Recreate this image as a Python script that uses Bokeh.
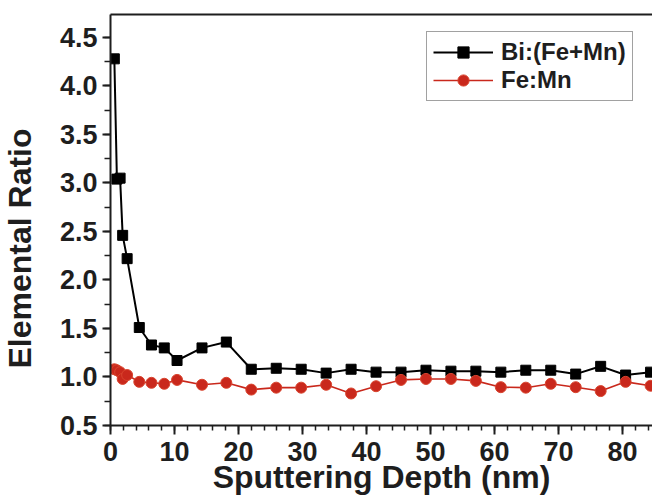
from bokeh.plotting import figure
from bokeh.models import (ColumnDataSource, Range1d, SingleIntervalTicker, LinearAxis,
                          Legend, LegendItem, Title, CustomJSTickFormatter)
from bokeh.embed import file_html
from bokeh.resources import INLINE

depth = [0.6, 1.0, 1.5, 1.9, 2.6, 4.5, 6.4, 8.4, 10.4, 14.3, 18.1, 22.0, 25.9, 29.8,
         33.7, 37.6, 41.5, 45.4, 49.3, 53.2, 57.1, 61.0, 64.9, 68.8, 72.7, 76.6, 80.5, 84.4]
bi_fe_mn = [4.28, 3.04, 3.05, 2.46, 2.22, 1.51, 1.33, 1.30, 1.17, 1.30, 1.36, 1.08, 1.09, 1.08,
            1.04, 1.08, 1.05, 1.05, 1.07, 1.06, 1.06, 1.05, 1.07, 1.07, 1.03, 1.11, 1.02, 1.05]
fe_mn = [1.08, 1.07, 1.05, 0.98, 1.02, 0.95, 0.94, 0.93, 0.97, 0.92, 0.94, 0.87, 0.89, 0.89,
         0.92, 0.83, 0.905, 0.97, 0.98, 0.98, 0.96, 0.895, 0.89, 0.93, 0.895, 0.855, 0.95, 0.91]
series_names = ["Bi:(Fe+Mn)", "Fe:Mn"]
x_title = "Sputtering Depth (nm)"
y_title = "Elemental Ratio"

FONT = "Liberation Sans"
RED = "#c9281c"
INK = "#1e1e1e"

src = ColumnDataSource(dict(x=depth, a=bi_fe_mn, b=fe_mn))

p = figure(width=652, height=498, output_backend="svg", toolbar_location=None,
           x_range=Range1d(0, 84.7), y_range=Range1d(0.5, 4.737),
           min_border_left=110, min_border_right=0, min_border_top=14, min_border_bottom=73)
p.grid.visible = False
p.outline_line_color = None
p.background_fill_color = "white"
p.border_fill_color = "white"

l1 = p.line("x", "a", source=src, line_color="black", line_width=2)
s1 = p.scatter("x", "a", source=src, marker="square", size=10, fill_color="black", line_color="black")
l2 = p.line("x", "b", source=src, line_color=RED, line_width=1.6)
s2 = p.scatter("x", "b", source=src, marker="circle", size=11, fill_color=RED, line_color="#d9442e", line_width=1)

for ax in (p.xaxis[0], p.yaxis[0]):
    ax.axis_line_width = 2
    ax.axis_line_color = INK
    ax.major_tick_line_color = INK
    ax.minor_tick_line_color = INK
    ax.major_tick_line_width = 2
    ax.minor_tick_line_width = 1.5
    ax.major_tick_in = 0
    ax.minor_tick_in = 0
    ax.major_label_text_font = FONT
    ax.major_label_text_font_style = "bold"
    ax.major_label_text_font_size = "27px"
    ax.major_label_text_color = INK
    ax.axis_label_text_font = FONT
    ax.axis_label_text_font_style = "bold"
    ax.axis_label_text_font_size = "32px"
    ax.axis_label_text_color = INK

p.xaxis.ticker = SingleIntervalTicker(interval=10, num_minor_ticks=5)
p.yaxis.ticker = SingleIntervalTicker(interval=0.5, num_minor_ticks=2)
p.xaxis.major_tick_out = 9
p.xaxis.minor_tick_out = 5
p.yaxis.major_tick_out = 8
p.yaxis.minor_tick_out = 6
p.xaxis.major_label_standoff = 7
p.yaxis.major_label_standoff = 5
p.xaxis.axis_label = x_title
p.xaxis.axis_label_standoff = -5
p.yaxis.formatter = CustomJSTickFormatter(code="return tick.toFixed(1);")
# blank spacer label to push the rotated title further left
p.yaxis.axis_label = " "
p.yaxis.axis_label_text_font_size = "2px"
p.yaxis.axis_label_standoff = 13

top = LinearAxis(ticker=SingleIntervalTicker(interval=10, num_minor_ticks=0),
                 major_tick_out=0, major_tick_in=0, minor_tick_out=0, minor_tick_in=0,
                 major_label_text_font_size="0px", axis_line_width=2, axis_line_color=INK)
top.major_label_text_alpha = 0
p.add_layout(top, "above")

ytitle = Title(text=y_title, align="left", offset=57, vertical_align="middle",
               text_font=FONT, text_font_style="bold", text_font_size="32px",
               text_color=INK, standoff=0)
p.add_layout(ytitle, "left")

legend = Legend(items=[LegendItem(label=series_names[0], renderers=[l1, s1]),
                       LegendItem(label=series_names[1], renderers=[l2, s2])],
                location=(316, 324), orientation="vertical",
                glyph_width=60, glyph_height=28, label_height=28, spacing=0,
                padding=6, margin=0, label_standoff=8,
                label_text_font=FONT, label_text_font_style="bold",
                label_text_font_size="24px", label_text_color=INK,
                border_line_color="#444444", border_line_width=1.5,
                background_fill_alpha=1)
p.add_layout(legend)

open("out.html", "w").write(file_html(p, INLINE))
